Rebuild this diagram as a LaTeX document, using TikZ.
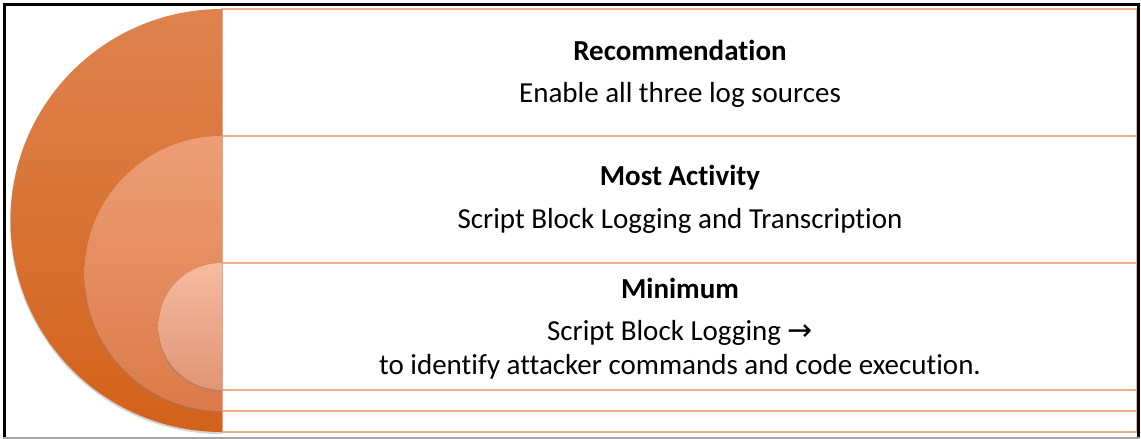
\documentclass[tikz,border=0pt]{standalone}
\usepackage{fontspec}
\setmainfont{Carlito}[Ligatures=NoCommon]
\newfontfamily\arrowfont{DejaVu Sans}
\usetikzlibrary{shadows}

\definecolor{outerTop}{HTML}{DE834F}
\definecolor{outerBot}{HTML}{D3621A}
\definecolor{midTop}{HTML}{EC9E76}
\definecolor{midBot}{HTML}{DC7A48}
\definecolor{innerTop}{HTML}{F6BBA0}
\definecolor{innerBot}{HTML}{E09576}
\definecolor{boxline}{HTML}{F2AC86}

\tikzset{
  box/.style={draw=boxline, line width=1.3pt},
  ring/.style={drop shadow={shadow xshift=-0.5pt, shadow yshift=-2pt, opacity=.35}},
  head/.style={font=\bfseries\fontsize{29}{34}\selectfont},
  body/.style={font=\fontsize{29}{34}\selectfont, align=center},
}

\begin{document}
\begin{tikzpicture}[x=1pt,y=1pt]
\useasboundingbox (0,0) rectangle (1141,-439);

\def\cx{222}

% text boxes (nested, right of the circles)
\draw[box] (\cx,-9) rectangle (1137,-432);
\draw[box] (\cx,-136) rectangle (1137,-411);
\draw[box] (\cx,-263) rectangle (1137,-390);

% half circles
\path[ring, top color=outerTop, bottom color=outerBot]
  (\cx,-9) arc[start angle=90, end angle=270, radius=211.5] -- cycle;
\path[ring, top color=midTop, bottom color=midBot]
  (\cx,-136) arc[start angle=90, end angle=270, radius=137.5] -- cycle;
\path[ring, top color=innerTop, bottom color=innerBot]
  (\cx,-263) arc[start angle=90, end angle=270, radius=63.5] -- cycle;

% labels
\node[head] (recHead) at (680,-50) {Recommendation};
\node[body] (recText) at (680,-95) {Enable all three log sources};
\node[head] (midHead) at (680,-178) {Most Activity};
\node[body] (midText) at (680,-221) {Script Block Logging and Transcription};
\node[head] (minHead) at (680,-288) {Minimum};
\node[body] (minText) at (680,-350)
  {Script Block Logging {\arrowfont\fontsize{30}{30}\selectfont →}\\
   to identify attacker commands and code execution.};

% frame
\draw[line width=3pt] (4.5,-437) -- (4.5,-4.5) -- (1138.5,-4.5) -- (1138.5,-437);
\draw[gray!70, line width=1.5pt] (3,-437.8) -- (1140,-437.8);

\end{tikzpicture}
\end{document}
